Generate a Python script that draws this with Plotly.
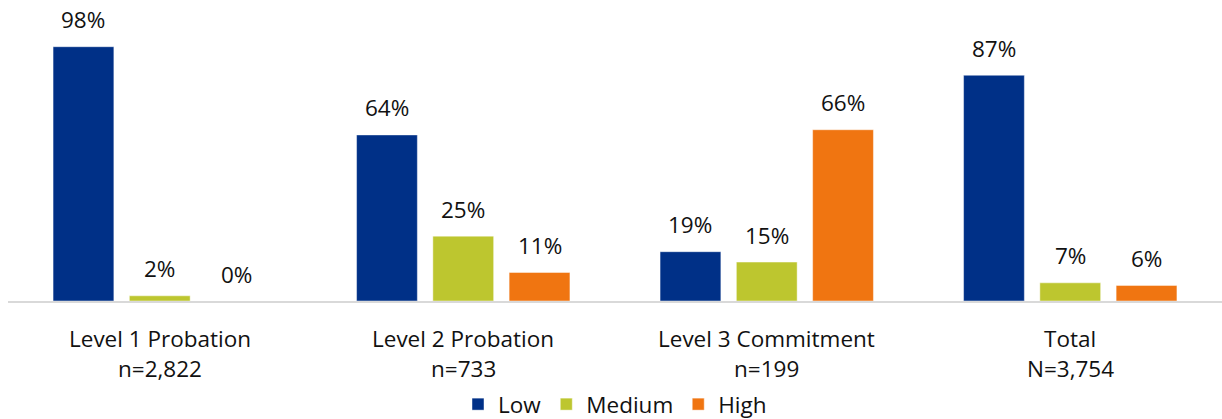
import plotly.graph_objects as go

categories = ["Level 1 Probation", "Level 2 Probation", "Level 3 Commitment", "Total"]
counts = ["n=2,822", "n=733", "n=199", "N=3,754"]
low = [98, 64, 19, 87]
medium = [2, 25, 15, 7]
high = [0, 11, 66, 6]

series = [("Low", low, "#003087"), ("Medium", medium, "#BDC62F"), ("High", high, "#F07511")]

FONT = "Open Sans, Noto Sans, sans-serif"
TEXT = "#111111"
SIZE = 22.5
PLOT_H = 419 - 118

fig = go.Figure()
for name, vals, color in series:
    fig.add_trace(go.Bar(
        name=name, x=categories, y=vals,
        marker=dict(color=color, line=dict(color="rgba(255,255,255,0.6)", width=0.75)),
        hoverinfo="x+y+name",
    ))

annotations = []
# value labels above each bar
n = len(series)
for i, (name, vals, color) in enumerate(series):
    for j, v in enumerate(vals):
        annotations.append(dict(
            x=j, y=v, xref="x", yref="y", text=f"{v}%", showarrow=False,
            xshift=(i - (n - 1) / 2) * 76.3, yshift=27, yanchor="middle",
            font=dict(family=FONT, size=SIZE, color=TEXT),
        ))
# two-line category labels under the axis
for j, (cat, cnt) in enumerate(zip(categories, counts)):
    annotations.append(dict(x=j, y=0, xref="x", yref="y", text=cat, showarrow=False,
                            yshift=-37, yanchor="middle",
                            font=dict(family=FONT, size=SIZE, color=TEXT)))
    annotations.append(dict(x=j, y=0, xref="x", yref="y", text=cnt, showarrow=False,
                            yshift=-67, yanchor="middle",
                            font=dict(family=FONT, size=SIZE, color=TEXT)))

fig.update_layout(
    width=1222, height=419,
    margin=dict(l=8, r=0, t=0, b=118, autoexpand=False),
    paper_bgcolor="white", plot_bgcolor="white",
    barmode="group", bargap=0.246, bargroupgap=0.203,
    font=dict(family=FONT, size=SIZE, color=TEXT),
    showlegend=True,
    legend=dict(orientation="h", x=0.5, xanchor="center",
                y=-(118 + 7) / PLOT_H, yanchor="bottom",
                font=dict(family=FONT, size=SIZE, color=TEXT),
                itemwidth=30, traceorder="normal", itemclick=False, tracegroupgap=0),
    annotations=annotations,
)
fig.update_xaxes(showticklabels=False, showline=True, linecolor="#D9D9D9", linewidth=2,
                 ticks="", showgrid=False, range=[-0.5, 3.5])
fig.update_yaxes(range=[0, 116], visible=False, showgrid=False, zeroline=False)

fig.write_html("out.html")
